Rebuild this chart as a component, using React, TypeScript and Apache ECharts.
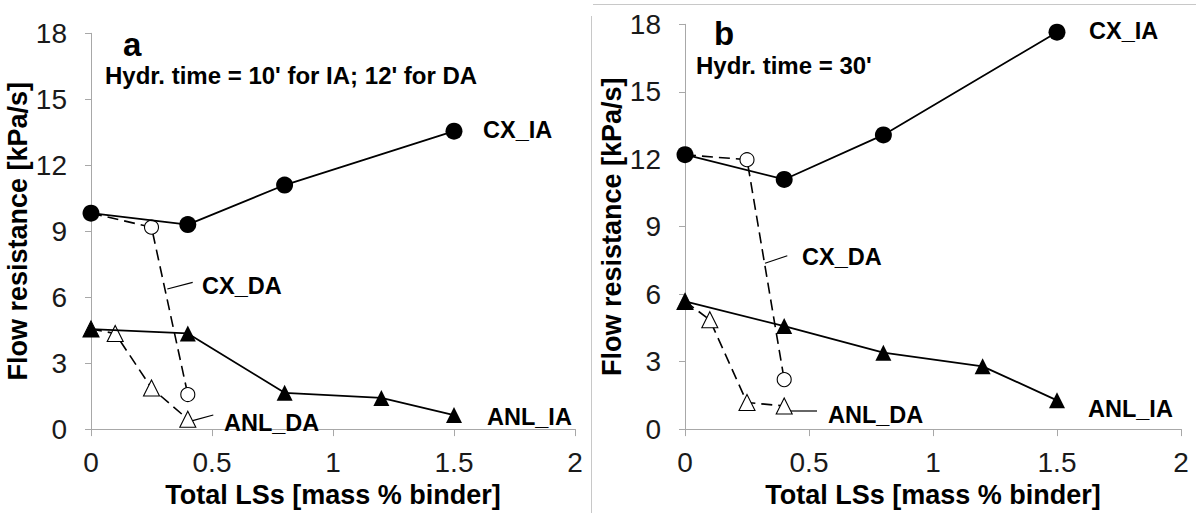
import React, { useEffect, useRef } from "react";
import * as echarts from "echarts";

// x positions (Total LSs, mass % binder)
const xIA = [0, 0.4, 0.8, 1.5];
const xCXDA = [0, 0.25, 0.4];
const xANLIA = [0, 0.4, 0.8, 1.2, 1.5];
const xANLDA = [0, 0.1, 0.25, 0.4];

// Panel a: hydration time 10' (IA) / 12' (DA)
const cxIA_a = [9.82, 9.3, 11.1, 13.55];
const cxDA_a = [9.82, 9.18, 1.57];
const anlIA_a = [4.55, 4.35, 1.65, 1.42, 0.64];
const anlDA_a = [4.55, 4.35, 1.87, 0.45];

// Panel b: hydration time 30'
const cxIA_b = [12.2, 11.1, 13.08, 17.65];
const cxDA_b = [12.2, 11.98, 2.2];
const anlIA_b = [5.68, 4.58, 3.4, 2.79, 1.28];
const anlDA_b = [5.68, 4.86, 1.18, 1.03];

const xTicks = { min: 0, max: 2, interval: 0.5 };
const yTicks = { min: 0, max: 18, interval: 3 };

const FONT = '"Liberation Sans", Arial, sans-serif';
const AXIS_GRAY = "#a8a8a8";

const zip = (xs: number[], ys: number[]) => xs.map((x, i) => [x, ys[i]]);

function App() {
  const ref = useRef<HTMLDivElement>(null);
  useEffect(() => {
    if (!ref.current) return;
    const chart = echarts.init(ref.current, undefined, { renderer: "svg" });

    const xAxis = (gi: number) => ({
      type: "value",
      gridIndex: gi,
      ...xTicks,
      name: "Total LSs [mass % binder]",
      nameLocation: "middle",
      nameGap: 50,
      nameTextStyle: { fontFamily: FONT, fontWeight: "bold", fontSize: 27, color: "#000" },
      axisLine: { show: true, lineStyle: { color: AXIS_GRAY, width: 1 } },
      axisTick: { show: true, inside: false, length: 7, lineStyle: { color: AXIS_GRAY } },
      axisLabel: { fontFamily: FONT, fontSize: 28, color: "#1a1a1a", margin: 19 },
      splitLine: { show: false },
    });
    const yAxis = (gi: number) => ({
      type: "value",
      gridIndex: gi,
      ...yTicks,
      name: "Flow resistance [kPa/s]",
      nameLocation: "middle",
      nameRotate: 90,
      nameGap: 55,
      nameTextStyle: { fontFamily: FONT, fontWeight: "bold", fontSize: 27, color: "#000" },
      axisLine: { show: true, lineStyle: { color: AXIS_GRAY, width: 1 } },
      axisTick: { show: true, inside: false, length: 6, lineStyle: { color: AXIS_GRAY } },
      axisLabel: { fontFamily: FONT, fontSize: 28, color: "#1a1a1a", margin: 24 },
      splitLine: { show: false },
    });

    const solid = (gi: number, name: string, data: number[][], symbol: string, size: number) => ({
      type: "line",
      name,
      xAxisIndex: gi,
      yAxisIndex: gi,
      data,
      symbol,
      symbolSize: size,
      showAllSymbol: true,
      lineStyle: { color: "#000", width: 1.8, type: "solid" },
      itemStyle: { color: "#000", borderColor: "#000", borderWidth: 0 },
      z: 3,
    });
    const dashed = (gi: number, name: string, data: number[][], symbol: string, size: number) => ({
      type: "line",
      name,
      xAxisIndex: gi,
      yAxisIndex: gi,
      data,
      symbol,
      symbolSize: size,
      showAllSymbol: true,
      lineStyle: { color: "#000", width: 1.6, type: [11, 6] },
      itemStyle: { color: "#fff", borderColor: "#000", borderWidth: 1.1 },
      z: 2,
    });

    const label = (text: string, x: number, y: number, size = 23.5) => ({
      type: "text",
      x,
      y,
      style: {
        text,
        font: `bold ${size}px ${FONT}`,
        fill: "#000",
        align: "left",
        verticalAlign: "middle",
        textAlign: "left",
        textVerticalAlign: "middle",
      },
      z: 10,
    });
    const leader = (x1: number, y1: number, x2: number, y2: number) => ({
      type: "line",
      shape: { x1, y1, x2, y2 },
      style: { stroke: "#000", lineWidth: 1.2 },
      z: 10,
    });

    chart.setOption({
      animation: false,
      backgroundColor: "#fff",
      grid: [
        { left: 91, top: 33.3, width: 484, height: 400 },
        { left: 685, top: 24.3, width: 496, height: 411 },
      ],
      xAxis: [xAxis(0), xAxis(1)],
      yAxis: [yAxis(0), yAxis(1)],
      series: [
        dashed(0, "CX_DA", zip(xCXDA, cxDA_a), "circle", 14),
        dashed(0, "ANL_DA", zip(xANLDA, anlDA_a), "triangle", 16),
        solid(0, "CX_IA", zip(xIA, cxIA_a), "circle", 17),
        solid(0, "ANL_IA", zip(xANLIA, anlIA_a), "triangle", 16),
        dashed(1, "CX_DA", zip(xCXDA, cxDA_b), "circle", 14),
        dashed(1, "ANL_DA", zip(xANLDA, anlDA_b), "triangle", 16),
        solid(1, "CX_IA", zip(xIA, cxIA_b), "circle", 17),
        solid(1, "ANL_IA", zip(xANLIA, anlIA_b), "triangle", 16),
      ],
      graphic: [
        // frame lines of the second panel
        { type: "line", shape: { x1: 593, y1: 4.5, x2: 1196, y2: 4.5 }, style: { stroke: "#c8c8c8", lineWidth: 1 } },
        { type: "line", shape: { x1: 591.5, y1: 16, x2: 591.5, y2: 513 }, style: { stroke: "#c8c8c8", lineWidth: 1 } },
        // panel a
        label("a", 123, 44, 33),
        label("Hydr. time = 10' for IA; 12' for DA", 105, 75, 24),
        label("CX_IA", 483, 130),
        label("CX_DA", 202, 286),
        label("ANL_DA", 224, 423),
        label("ANL_IA", 487, 417),
        leader(167.3, 289, 192.7, 282.3),
        leader(192.7, 420.7, 213.3, 415),
        // panel b
        label("b", 714, 33, 33),
        label("Hydr. time = 30'", 696, 65, 24),
        label("CX_IA", 1089, 31),
        label("CX_DA", 802, 257),
        label("ANL_DA", 828, 415),
        label("ANL_IA", 1088, 409),
        leader(765, 263.3, 787.3, 255.7),
        leader(791, 411, 817, 411),
      ],
    });
    return () => chart.dispose();
  }, []);
  return (
    <div
      ref={ref}
      style={{ position: "fixed", left: 0, top: 0, width: 1196, height: 513, background: "#fff" }}
    />
  );
}

export default App;
